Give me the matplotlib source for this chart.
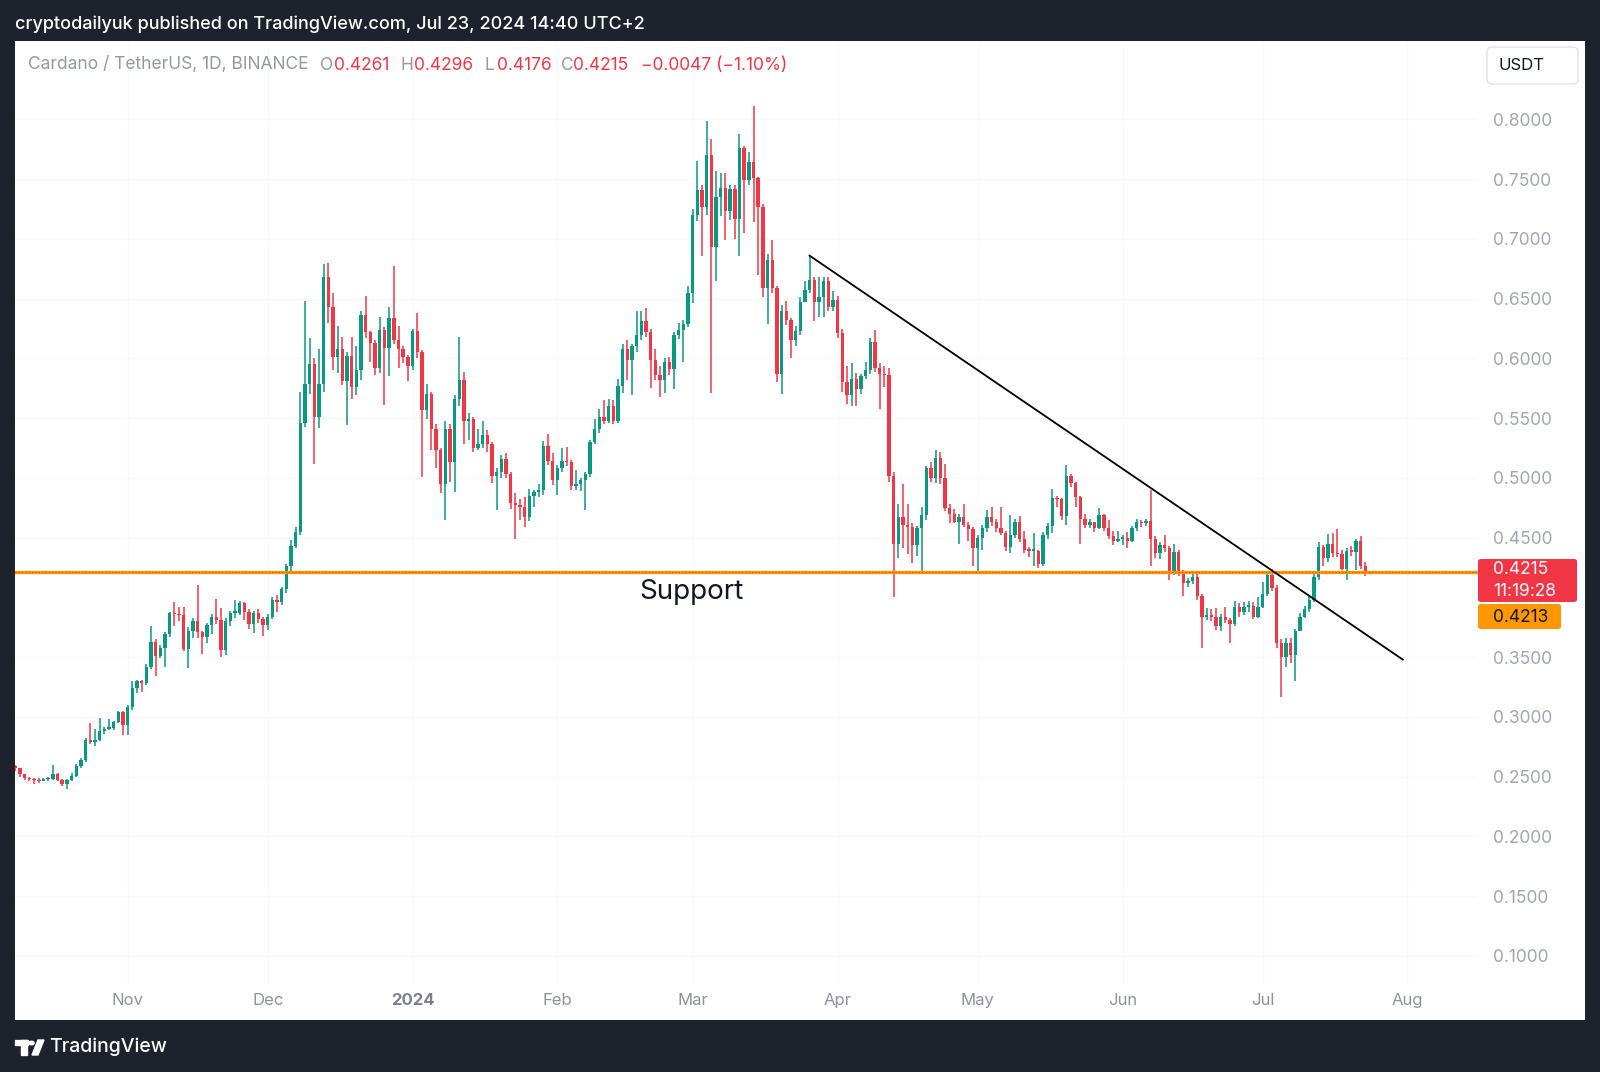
import matplotlib.pyplot as plt
import numpy as np
import pandas as pd
from matplotlib.patches import Rectangle, FancyBboxPatch, Circle, Polygon

plt.rcParams['font.family'] = ['Inter', 'DejaVu Sans']

# ---- data (ADA/USDT, 1D, Binance) ----
start_date = '2023-10-08'
first_open = 0.259

close = [
    0.257, 0.252, 0.249, 0.248, 0.247, 0.246, 0.248, 0.248, 0.252, 0.247,
    0.244, 0.247, 0.251, 0.259, 0.264, 0.281, 0.279, 0.281, 0.288, 0.290,
    0.291, 0.296, 0.304, 0.293, 0.308, 0.324, 0.330, 0.328, 0.342, 0.363,
    0.351, 0.358, 0.369, 0.387, 0.386, 0.385, 0.357, 0.372, 0.380, 0.371,
    0.367, 0.377, 0.384, 0.381, 0.356, 0.380, 0.387, 0.387, 0.395, 0.388,
    0.378, 0.387, 0.382, 0.377, 0.384, 0.398, 0.396, 0.407, 0.426, 0.443,
    0.455, 0.546, 0.579, 0.595, 0.551, 0.579, 0.668, 0.643, 0.601, 0.608,
    0.581, 0.602, 0.576, 0.590, 0.636, 0.622, 0.613, 0.592, 0.624, 0.609,
    0.634, 0.615, 0.608, 0.601, 0.594, 0.623, 0.605, 0.557, 0.570, 0.541,
    0.523, 0.495, 0.541, 0.513, 0.566, 0.582, 0.548, 0.549, 0.525, 0.528,
    0.536, 0.528, 0.502, 0.505, 0.516, 0.503, 0.479, 0.477, 0.476, 0.467,
    0.485, 0.488, 0.490, 0.527, 0.514, 0.498, 0.508, 0.514, 0.513, 0.493,
    0.495, 0.498, 0.503, 0.530, 0.541, 0.551, 0.548, 0.560, 0.548, 0.577,
    0.608, 0.599, 0.610, 0.620, 0.631, 0.622, 0.599, 0.586, 0.582, 0.597,
    0.591, 0.620, 0.624, 0.629, 0.655, 0.720, 0.741, 0.727, 0.770, 0.693,
    0.735, 0.743, 0.723, 0.742, 0.717, 0.776, 0.749, 0.764, 0.751, 0.727,
    0.659, 0.682, 0.659, 0.587, 0.640, 0.632, 0.615, 0.623, 0.647, 0.657,
    0.666, 0.647, 0.651, 0.665, 0.643, 0.649, 0.621, 0.580, 0.569, 0.583,
    0.574, 0.585, 0.590, 0.614, 0.592, 0.587, 0.586, 0.502, 0.445, 0.467,
    0.461, 0.459, 0.444, 0.458, 0.469, 0.508, 0.500, 0.517, 0.500, 0.475,
    0.470, 0.463, 0.467, 0.461, 0.457, 0.441, 0.450, 0.458, 0.467, 0.463,
    0.458, 0.454, 0.442, 0.452, 0.463, 0.449, 0.440, 0.439, 0.439, 0.428,
    0.452, 0.460, 0.483, 0.482, 0.468, 0.502, 0.496, 0.484, 0.466, 0.461,
    0.463, 0.458, 0.469, 0.458, 0.451, 0.447, 0.449, 0.450, 0.447, 0.458,
    0.463, 0.462, 0.464, 0.449, 0.437, 0.444, 0.441, 0.421, 0.438, 0.421,
    0.412, 0.414, 0.417, 0.401, 0.384, 0.385, 0.384, 0.376, 0.384, 0.381,
    0.378, 0.392, 0.388, 0.392, 0.393, 0.384, 0.392, 0.403, 0.419, 0.408,
    0.362, 0.350, 0.362, 0.352, 0.372, 0.384, 0.390, 0.398, 0.417, 0.442,
    0.433, 0.445, 0.437, 0.436, 0.424, 0.439, 0.438, 0.447, 0.4261, 0.4215,
]

high = [
    0.260, 0.257, 0.252, 0.250, 0.249, 0.249, 0.249, 0.250, 0.260, 0.253,
    0.248, 0.248, 0.253, 0.261, 0.266, 0.282, 0.295, 0.290, 0.299, 0.292,
    0.298, 0.297, 0.305, 0.305, 0.310, 0.330, 0.331, 0.331, 0.344, 0.376,
    0.365, 0.360, 0.371, 0.388, 0.396, 0.392, 0.392, 0.375, 0.383, 0.410,
    0.372, 0.379, 0.386, 0.399, 0.391, 0.383, 0.389, 0.398, 0.397, 0.396,
    0.390, 0.389, 0.390, 0.384, 0.386, 0.400, 0.402, 0.409, 0.428, 0.448,
    0.459, 0.572, 0.648, 0.617, 0.600, 0.608, 0.679, 0.680, 0.655, 0.627,
    0.618, 0.605, 0.618, 0.610, 0.640, 0.652, 0.623, 0.615, 0.635, 0.626,
    0.643, 0.677, 0.627, 0.610, 0.603, 0.625, 0.638, 0.607, 0.579, 0.572,
    0.545, 0.525, 0.548, 0.545, 0.569, 0.618, 0.589, 0.554, 0.551, 0.541,
    0.548, 0.540, 0.530, 0.508, 0.519, 0.521, 0.505, 0.487, 0.482, 0.484,
    0.491, 0.490, 0.495, 0.531, 0.537, 0.521, 0.511, 0.525, 0.526, 0.515,
    0.507, 0.500, 0.505, 0.532, 0.549, 0.558, 0.565, 0.566, 0.565, 0.583,
    0.612, 0.615, 0.612, 0.640, 0.640, 0.642, 0.625, 0.608, 0.594, 0.600,
    0.601, 0.622, 0.630, 0.632, 0.661, 0.725, 0.765, 0.745, 0.799, 0.784,
    0.757, 0.755, 0.755, 0.745, 0.745, 0.788, 0.778, 0.773, 0.811, 0.752,
    0.729, 0.687, 0.699, 0.661, 0.645, 0.648, 0.634, 0.627, 0.651, 0.665,
    0.686, 0.668, 0.668, 0.668, 0.668, 0.656, 0.652, 0.625, 0.594, 0.596,
    0.588, 0.587, 0.597, 0.617, 0.624, 0.596, 0.594, 0.592, 0.505, 0.478,
    0.495, 0.478, 0.462, 0.460, 0.476, 0.510, 0.513, 0.523, 0.522, 0.512,
    0.478, 0.474, 0.470, 0.478, 0.463, 0.459, 0.452, 0.461, 0.473, 0.476,
    0.466, 0.476, 0.456, 0.469, 0.466, 0.468, 0.456, 0.442, 0.454, 0.440,
    0.455, 0.462, 0.491, 0.485, 0.483, 0.511, 0.503, 0.497, 0.485, 0.470,
    0.466, 0.463, 0.475, 0.470, 0.465, 0.456, 0.456, 0.452, 0.455, 0.460,
    0.466, 0.465, 0.466, 0.490, 0.451, 0.446, 0.452, 0.443, 0.445, 0.440,
    0.423, 0.416, 0.420, 0.422, 0.403, 0.391, 0.390, 0.391, 0.386, 0.392,
    0.383, 0.397, 0.395, 0.396, 0.397, 0.396, 0.400, 0.413, 0.421, 0.424,
    0.410, 0.365, 0.366, 0.366, 0.374, 0.387, 0.393, 0.401, 0.420, 0.446,
    0.444, 0.453, 0.454, 0.457, 0.440, 0.441, 0.443, 0.449, 0.451, 0.4296,
]

low = [
    0.255, 0.250, 0.247, 0.246, 0.244, 0.245, 0.246, 0.246, 0.247, 0.246,
    0.242, 0.240, 0.246, 0.250, 0.257, 0.262, 0.277, 0.276, 0.280, 0.286,
    0.289, 0.289, 0.295, 0.285, 0.285, 0.306, 0.320, 0.321, 0.327, 0.340,
    0.334, 0.349, 0.342, 0.367, 0.376, 0.380, 0.355, 0.341, 0.366, 0.366,
    0.353, 0.362, 0.369, 0.378, 0.350, 0.352, 0.376, 0.383, 0.385, 0.381,
    0.374, 0.370, 0.379, 0.368, 0.373, 0.382, 0.388, 0.394, 0.404, 0.422,
    0.441, 0.452, 0.543, 0.570, 0.512, 0.542, 0.572, 0.630, 0.590, 0.588,
    0.578, 0.544, 0.566, 0.569, 0.582, 0.617, 0.597, 0.586, 0.588, 0.561,
    0.585, 0.612, 0.592, 0.596, 0.581, 0.590, 0.600, 0.501, 0.549, 0.523,
    0.508, 0.487, 0.465, 0.497, 0.488, 0.560, 0.528, 0.532, 0.522, 0.523,
    0.525, 0.522, 0.496, 0.473, 0.500, 0.500, 0.474, 0.449, 0.465, 0.459,
    0.464, 0.476, 0.484, 0.486, 0.511, 0.494, 0.486, 0.505, 0.510, 0.490,
    0.490, 0.489, 0.473, 0.501, 0.528, 0.538, 0.545, 0.546, 0.545, 0.546,
    0.571, 0.582, 0.569, 0.605, 0.615, 0.618, 0.575, 0.582, 0.568, 0.571,
    0.586, 0.574, 0.616, 0.597, 0.626, 0.646, 0.715, 0.686, 0.720, 0.571,
    0.665, 0.719, 0.699, 0.716, 0.700, 0.686, 0.705, 0.745, 0.714, 0.670,
    0.651, 0.629, 0.655, 0.580, 0.570, 0.628, 0.600, 0.610, 0.620, 0.650,
    0.655, 0.631, 0.635, 0.635, 0.640, 0.640, 0.617, 0.572, 0.562, 0.560,
    0.560, 0.570, 0.583, 0.587, 0.589, 0.558, 0.576, 0.497, 0.400, 0.433,
    0.441, 0.436, 0.429, 0.435, 0.421, 0.465, 0.497, 0.496, 0.495, 0.472,
    0.462, 0.462, 0.445, 0.459, 0.447, 0.426, 0.420, 0.440, 0.455, 0.460,
    0.455, 0.452, 0.439, 0.437, 0.450, 0.446, 0.437, 0.434, 0.426, 0.425,
    0.426, 0.449, 0.454, 0.476, 0.465, 0.461, 0.492, 0.476, 0.445, 0.458,
    0.458, 0.455, 0.457, 0.456, 0.449, 0.444, 0.446, 0.444, 0.441, 0.446,
    0.456, 0.459, 0.460, 0.426, 0.433, 0.432, 0.438, 0.415, 0.419, 0.418,
    0.401, 0.409, 0.411, 0.398, 0.358, 0.381, 0.380, 0.373, 0.372, 0.379,
    0.362, 0.376, 0.384, 0.385, 0.388, 0.382, 0.383, 0.391, 0.401, 0.405,
    0.358, 0.317, 0.342, 0.345, 0.330, 0.372, 0.383, 0.388, 0.396, 0.415,
    0.426, 0.430, 0.434, 0.434, 0.423, 0.415, 0.435, 0.423, 0.424, 0.4176,
]

# drawn objects
support_level = 0.4213
last_price = 0.4215
trend_dates = ['2024-03-26', '2024-07-31']
trend_prices = [0.686, 0.348]
month_ticks = ['2023-11-01', '2023-12-01', '2024-01-01', '2024-02-01', '2024-03-01',
               '2024-04-01', '2024-05-01', '2024-06-01', '2024-07-01', '2024-08-01']
month_labels = ['Nov', 'Dec', '2024', 'Feb', 'Mar', 'Apr', 'May', 'Jun', 'Jul', 'Aug']
# 0.40 sits under the price tags, so it has no visible label
price_ticks = [0.10, 0.15, 0.20, 0.25, 0.30, 0.35, 0.45, 0.50, 0.55, 0.60,
               0.65, 0.70, 0.75, 0.80]

GREEN = '#089981'
RED = '#f23645'
ORANGE = '#ff9800'
FRAME = '#1e222d'
W, H = 1600, 1072


def fx(x):
    return x / W


def fy(y):
    return 1 - y / H


close = np.array(close)
high = np.array(high)
low = np.array(low)
open_ = np.r_[first_open, close[:-1]]
high = np.maximum(high, np.maximum(open_, close))
low = np.minimum(low, np.minimum(open_, close))

t0 = pd.Timestamp(start_date)
xs = np.arange(len(close))


def day_index(d):
    return (pd.Timestamp(d) - t0).days


fig = plt.figure(figsize=(W / 100, H / 100), dpi=100, facecolor=FRAME)

# white chart panel
fig.patches.append(Rectangle((fx(15), fy(1020)), fx(1585) - fx(15), fy(41) - fy(1020),
                             transform=fig.transFigure, facecolor='white',
                             edgecolor='none', zorder=-1))

ax = fig.add_axes([fx(15), fy(985), fx(1478) - fx(15), fy(41) - fy(985)])
ax.set_facecolor('white')
for s in ax.spines.values():
    s.set_visible(False)

# candles
up = close >= open_
colors = np.where(up, GREEN, RED)
ax.vlines(xs, low, high, colors=colors, lw=1.1, zorder=3)
ax.bar(xs, np.maximum(np.abs(close - open_), 0.0013), bottom=np.minimum(open_, close),
       width=0.72, color=colors, linewidth=0, zorder=4)

# support + last price line
ax.axhline(support_level, color=ORANGE, lw=2.4, zorder=5)
ax.axhline(last_price, color=RED, lw=0.8, ls=(0, (1, 2)), zorder=6)

# trendline
ax.plot([day_index(d) for d in trend_dates], trend_prices, color='black', lw=1.3, zorder=7)

ax.text(day_index('2024-03-01') - 0.3, 0.4045, 'Support', fontsize=20, color='#131722',
        ha='center', va='center', zorder=8)

ax.set_xlim(-0.1, 313.1)
ax.set_ylim(0.0757, 0.8656)

# axes ticks
ax.set_xticks([day_index(d) for d in month_ticks])
ax.set_xticklabels(month_labels)
ax.tick_params(axis='x', length=0, pad=6, labelsize=12, labelcolor='#8f929b')
for lab in ax.get_xticklabels():
    if lab.get_text() == '2024':
        lab.set_fontweight('bold')
        lab.set_color('#7d808a')

ax.yaxis.tick_right()
ax.set_yticks(price_ticks)
ax.set_yticklabels([f'{p:.4f}' for p in price_ticks])
ax.tick_params(axis='y', length=0, pad=11, labelsize=12.5, labelcolor='#a3a6af')
ax.grid(True, color='#f8f9fb', lw=1, zorder=0)

# header texts
fig.text(fx(15), fy(24), 'cryptodailyuk published on TradingView.com, Jul 23, 2024 14:40 UTC+2',
         color='white', fontsize=13, fontweight='medium', va='center', ha='left')
hdr = [(27.5, 'Cardano / TetherUS, 1D, BINANCE', '#9598a1'),
       (320.4, 'O', '#9598a1'), (333.7, '0.4261', RED),
       (401.0, 'H', '#9598a1'), (414.3, '0.4296', RED),
       (484.7, 'L', '#9598a1'), (497.0, '0.4176', RED),
       (561.2, 'C', '#9598a1'), (573.5, '0.4215', RED),
       (640.8, '\u22120.0047 (\u22121.10%)', RED)]
for x, s, c in hdr:
    fig.text(fx(x), fy(65), s, color=c, fontsize=12.5, va='center', ha='left')

# USDT box
fig.patches.append(FancyBboxPatch((fx(1487), fy(84)), fx(1578) - fx(1487), fy(47) - fy(84),
                                  boxstyle='round,pad=0,rounding_size=0.004',
                                  transform=fig.transFigure, facecolor='white',
                                  edgecolor='#e0e3eb', lw=1))
fig.text(fx(1498), fy(66), 'USDT', color='#131722', fontsize=12, va='center', ha='left')

# price tags
fig.patches.append(FancyBboxPatch((fx(1478), fy(602)), fx(1577) - fx(1478), fy(559) - fy(602),
                                  boxstyle='round,pad=0,rounding_size=0.002',
                                  transform=fig.transFigure, facecolor=RED, edgecolor='none'))
fig.text(fx(1493), fy(570), '0.4215', color='white', fontsize=12.5, va='center', ha='left')
fig.text(fx(1493), fy(591), '11:19:28', color='white', fontsize=12.5, va='center', ha='left')
fig.patches.append(FancyBboxPatch((fx(1478), fy(629)), fx(1561) - fx(1478), fy(604) - fy(629),
                                  boxstyle='round,pad=0,rounding_size=0.002',
                                  transform=fig.transFigure, facecolor=ORANGE, edgecolor='none'))
fig.text(fx(1493), fy(617), '0.4213', color='#131722', fontsize=12.5, va='center', ha='left')

# TradingView logo (rough)
tf = fig.transFigure
fig.patches.append(Rectangle((fx(15), fy(1045)), fx(28) - fx(15), fy(1040) - fy(1045),
                             transform=tf, color='white'))
fig.patches.append(Rectangle((fx(21), fy(1055)), fx(27) - fx(21), fy(1040) - fy(1055),
                             transform=tf, color='white'))
fig.patches.append(Circle((fx(31.5), fy(1043)), 2.6 / W, transform=tf, color='white'))
fig.patches.append(Polygon([(fx(32), fy(1055)), (fx(38), fy(1040)), (fx(44), fy(1040)),
                            (fx(38), fy(1055))], closed=True, transform=tf, color='white'))
fig.text(fx(49), fy(1047), 'TradingView', color='white', fontsize=14, fontweight='medium',
         va='center', ha='left')

fig.savefig('out.png', dpi=100, facecolor=FRAME)
